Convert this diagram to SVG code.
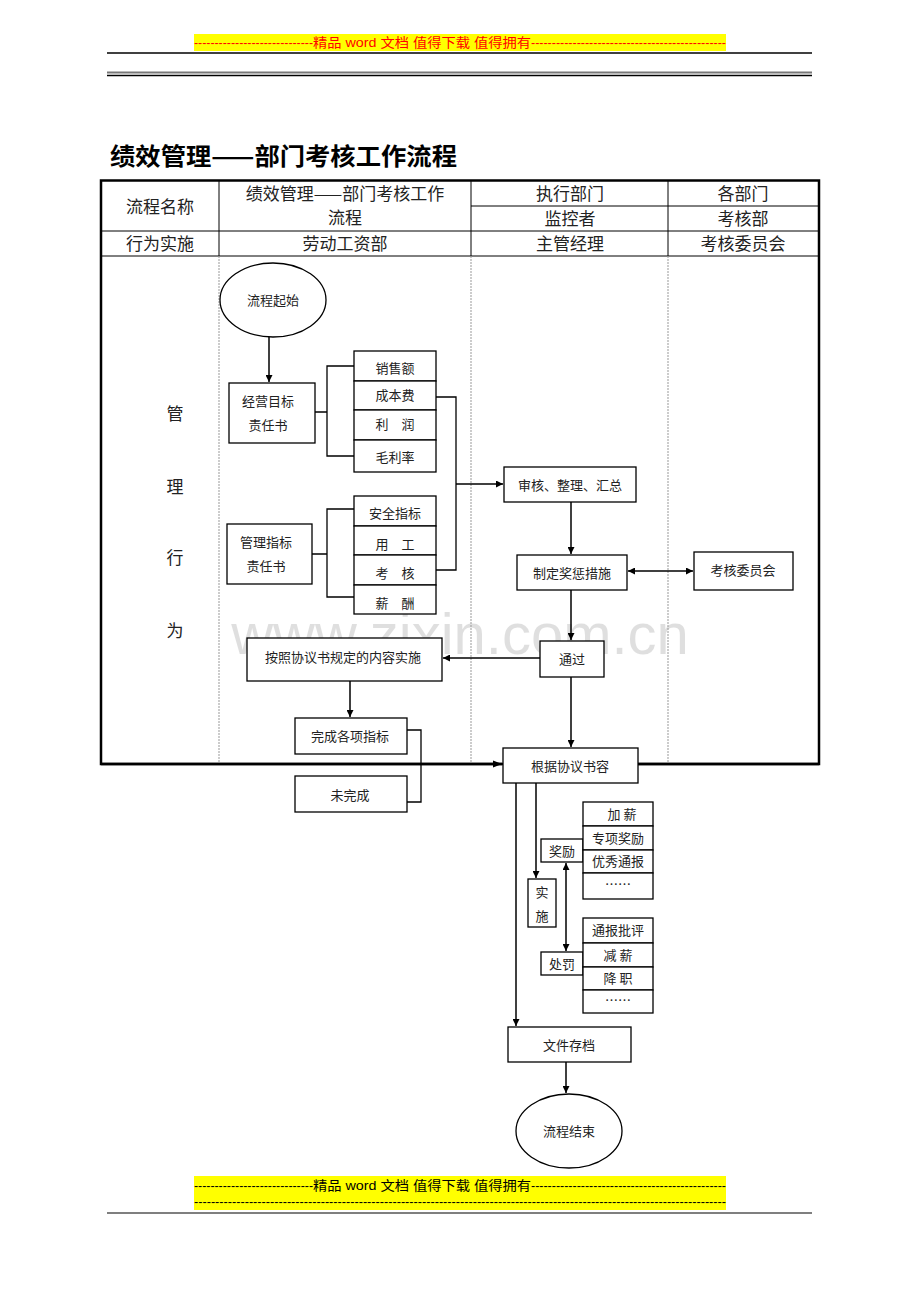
<svg xmlns="http://www.w3.org/2000/svg" width="920" height="1302" viewBox="0 0 920 1302">
<defs>
<style>
.t{font-family:"Noto Sans CJK SC","Liberation Serif",serif;fill:#222;text-anchor:middle}
.h{font-size:17px}
.s{font-size:13px}
.b{fill:#fff;stroke:#000;stroke-width:1.3}
.ln{fill:none;stroke:#000;stroke-width:1.3}
.ar{fill:none;stroke:#000;stroke-width:1.5}
.dot{stroke:#999;stroke-width:1;stroke-dasharray:2,1}
.hd{font-family:"Liberation Sans","Noto Sans CJK SC",sans-serif;font-size:13px}
</style>
<marker id="a" viewBox="0 0 10 10" refX="10" refY="5" markerWidth="7" markerHeight="7" orient="auto-start-reverse" markerUnits="userSpaceOnUse"><path d="M0,0L10,5L0,10z" fill="#000"/></marker>
<marker id="a2" viewBox="0 0 10 10" refX="10" refY="5" markerWidth="9" markerHeight="9" orient="auto-start-reverse" markerUnits="userSpaceOnUse"><path d="M0,1L10,5L0,9z" fill="#000"/></marker>
</defs>
<rect width="920" height="1302" fill="#fff"/>

<g id="header">
<rect x="194" y="34" width="532" height="17" fill="#ff0"/>
<text class="hd" x="194" y="47" fill="#f00" textLength="119" lengthAdjust="spacingAndGlyphs">-----------------------------</text>
<text class="hd" x="313" y="47" fill="#f00" textLength="218" lengthAdjust="spacingAndGlyphs" font-family="Noto Sans CJK SC">精品 word 文档  值得下载  值得拥有</text>
<text class="hd" x="531" y="47" fill="#f00" textLength="195" lengthAdjust="spacingAndGlyphs">-----------------------------------------------</text>
<line x1="107" y1="53" x2="812" y2="53" stroke="#000" stroke-width="1.5"/>
<line x1="107" y1="72.5" x2="812" y2="72.5" stroke="#777" stroke-width="2"/>
<line x1="107" y1="75.5" x2="812" y2="75.5" stroke="#000" stroke-width="1.3"/>
</g>

<text x="110" y="165" font-family="Noto Sans CJK SC,sans-serif" font-size="24" font-weight="bold" fill="#000" textLength="347" lengthAdjust="spacingAndGlyphs">绩效管理——部门考核工作流程</text>

<text x="460" y="654" font-family="Liberation Sans,sans-serif" font-size="58" fill="#000" opacity="0.12" text-anchor="middle">www.zixin.com.cn</text>

<g id="table">
<line x1="219" y1="180" x2="219" y2="256" stroke="#000" stroke-width="1"/>
<line x1="471" y1="180" x2="471" y2="256" stroke="#000" stroke-width="1"/>
<line x1="668" y1="180" x2="668" y2="256" stroke="#000" stroke-width="1"/>
<line x1="471" y1="206" x2="819" y2="206" stroke="#000" stroke-width="1"/>
<line x1="101" y1="231" x2="819" y2="231" stroke="#000" stroke-width="1"/>
<line x1="101" y1="256" x2="819" y2="256" stroke="#000" stroke-width="1"/>
<line class="dot" x1="219" y1="256" x2="219" y2="764"/>
<line class="dot" x1="471" y1="256" x2="471" y2="764"/>
<line class="dot" x1="668" y1="256" x2="668" y2="764"/>
<rect x="101" y="180.5" width="718" height="583.5" fill="none" stroke="#000" stroke-width="2.5"/>
<text class="t h" x="160" y="213">流程名称</text>
<text class="t h" x="345" y="200">绩效管理——部门考核工作</text>
<text class="t h" x="345" y="224">流程</text>
<text class="t h" x="570" y="200">执行部门</text>
<text class="t h" x="743" y="200">各部门</text>
<text class="t h" x="570" y="225">监控者</text>
<text class="t h" x="743" y="225">考核部</text>
<text class="t h" x="160" y="250">行为实施</text>
<text class="t h" x="345" y="250">劳动工资部</text>
<text class="t h" x="570" y="250">主管经理</text>
<text class="t h" x="743" y="250">考核委员会</text>
<text class="t h" x="175" y="420">管</text>
<text class="t h" x="175" y="493">理</text>
<text class="t h" x="175" y="564">行</text>
<text class="t h" x="175" y="637">为</text>
</g>

<g id="connectors">
<line class="ar" x1="269" y1="337" x2="269" y2="382" marker-end="url(#a)"/>
<path class="ln" d="M315,412H327M354,366H327V456H354"/>
<path class="ln" d="M312,554H327M354,509H327V597H354"/>
<path class="ln" d="M436,397H456V570H436"/>
<line class="ar" x1="456" y1="484" x2="503" y2="484" marker-end="url(#a)"/>
<line class="ar" x1="571" y1="502" x2="571" y2="554" marker-end="url(#a)"/>
<line class="ar" x1="628" y1="571" x2="693" y2="571" marker-start="url(#a)" marker-end="url(#a)"/>
<line class="ar" x1="571" y1="590" x2="571" y2="640" marker-end="url(#a)"/>
<line class="ar" x1="540" y1="658" x2="443" y2="658" marker-end="url(#a)"/>
<line class="ar" x1="350" y1="681" x2="350" y2="717" marker-end="url(#a)"/>
<path class="ln" d="M407,730H421V802H407"/>
<line x1="101" y1="764" x2="502" y2="764" stroke="#000" stroke-width="2.5" marker-end="url(#a2)"/>
<line x1="638" y1="764" x2="819" y2="764" stroke="#000" stroke-width="2.5"/>
<line class="ar" x1="571" y1="677" x2="571" y2="747" marker-end="url(#a)"/>
<line class="ar" x1="516" y1="783" x2="516" y2="1026" marker-end="url(#a)"/>
<line class="ar" x1="536" y1="783" x2="536" y2="878" marker-end="url(#a)"/>
<line class="ar" x1="566" y1="863" x2="566" y2="951" marker-start="url(#a)" marker-end="url(#a)"/>
<line class="ar" x1="566" y1="1062" x2="566" y2="1093" marker-end="url(#a)"/>
</g>

<g id="start"><ellipse class="b" cx="273" cy="300" rx="53" ry="37"/><text class="t s" x="273" y="305">流程起始</text></g>
<g id="jymb"><rect class="b" x="229" y="383" width="86" height="60"/><text class="t s" x="268" y="406">经营目标</text><text class="t s" x="268" y="430">责任书</text></g>
<g id="xse"><rect class="b" x="354" y="351" width="82" height="30"/><text class="t s" x="395" y="373">销售额</text></g>
<g id="cbf"><rect class="b" x="354" y="381" width="82" height="29"/><text class="t s" x="395" y="400">成本费</text></g>
<g id="lr"><rect class="b" x="354" y="410" width="82" height="30"/><text class="t s" x="395" y="429">利　润</text></g>
<g id="mll"><rect class="b" x="354" y="440" width="82" height="32"/><text class="t s" x="395" y="462">毛利率</text></g>
<g id="glzb"><rect class="b" x="227" y="524" width="85" height="60"/><text class="t s" x="266" y="547">管理指标</text><text class="t s" x="266" y="571">责任书</text></g>
<g id="aqzb"><rect class="b" x="354" y="496" width="82" height="30"/><text class="t s" x="395" y="518">安全指标</text></g>
<g id="yg"><rect class="b" x="354" y="526" width="82" height="29"/><text class="t s" x="395" y="549">用　工</text></g>
<g id="kh"><rect class="b" x="354" y="555" width="82" height="30"/><text class="t s" x="395" y="578">考　核</text></g>
<g id="xc"><rect class="b" x="354" y="585" width="82" height="29"/><text class="t s" x="395" y="608">薪　酬</text></g>
<g id="shzl"><rect class="b" x="504" y="467" width="132" height="35"/><text class="t s" x="570" y="490">审核、整理、汇总</text></g>
<g id="zdjc"><rect class="b" x="517" y="555" width="110" height="35"/><text class="t s" x="572" y="578">制定奖惩措施</text></g>
<g id="khwyh"><rect class="b" x="694" y="552" width="99" height="38"/><text class="t s" x="743" y="575">考核委员会</text></g>
<g id="tg"><rect class="b" x="540" y="641" width="64" height="36"/><text class="t s" x="572" y="664">通过</text></g>
<g id="azxy"><rect class="b" x="247" y="638" width="195" height="43"/><text class="t s" x="343" y="662">按照协议书规定的内容实施</text></g>
<g id="wcgx"><rect class="b" x="295" y="718" width="112" height="36"/><text class="t s" x="350" y="741">完成各项指标</text></g>
<g id="wwc"><rect class="b" x="295" y="776" width="112" height="36"/><text class="t s" x="350" y="800">未完成</text></g>
<g id="gjxys"><rect class="b" x="503" y="748" width="135" height="35"/><text class="t s" x="570" y="771">根据协议书容</text></g>
<g id="ss"><rect class="b" x="528" y="879" width="28" height="48"/><text class="t s" x="542" y="897">实</text><text class="t s" x="542" y="921">施</text></g>
<g id="jl"><rect class="b" x="541" y="839" width="42" height="23"/><text class="t s" x="562" y="856">奖励</text></g>
<g id="cf"><rect class="b" x="541" y="952" width="42" height="23"/><text class="t s" x="562" y="969">处罚</text></g>
<g id="jx"><rect class="b" x="583" y="802" width="70" height="24"/><text class="t s" x="622" y="819">加  薪</text></g>
<g id="zxjl"><rect class="b" x="583" y="826" width="70" height="24"/><text class="t s" x="618" y="843">专项奖励</text></g>
<g id="yxtb"><rect class="b" x="583" y="850" width="70" height="23"/><text class="t s" x="618" y="866">优秀通报</text></g>
<g id="dots1"><rect class="b" x="583" y="873" width="70" height="26"/><text class="t s" x="618" y="889">……</text></g>
<g id="tbpp"><rect class="b" x="583" y="918" width="70" height="25"/><text class="t s" x="618" y="935">通报批评</text></g>
<g id="jianx"><rect class="b" x="583" y="943" width="70" height="24"/><text class="t s" x="618" y="960">减  薪</text></g>
<g id="jz"><rect class="b" x="583" y="967" width="70" height="23"/><text class="t s" x="618" y="983">降  职</text></g>
<g id="dots2"><rect class="b" x="583" y="990" width="70" height="23"/><text class="t s" x="618" y="1005">……</text></g>
<g id="wjcd"><rect class="b" x="508" y="1027" width="123" height="35"/><text class="t s" x="569" y="1050">文件存档</text></g>
<g id="end"><ellipse class="b" cx="569" cy="1131" rx="53" ry="37"/><text class="t s" x="569" y="1136">流程结束</text></g>

<g id="footer">
<rect x="194" y="1176" width="532" height="34" fill="#ff0"/>
<text class="hd" x="194" y="1190" fill="#000" textLength="119" lengthAdjust="spacingAndGlyphs">-----------------------------</text>
<text class="hd" x="313" y="1190" fill="#000" textLength="218" lengthAdjust="spacingAndGlyphs" font-family="Noto Sans CJK SC">精品 word 文档  值得下载  值得拥有</text>
<text class="hd" x="531" y="1190" fill="#000" textLength="195" lengthAdjust="spacingAndGlyphs">-----------------------------------------------</text>
<text class="hd" x="194" y="1206" fill="#000" textLength="532" lengthAdjust="spacingAndGlyphs">------------------------------------------------------------------------------------------------------------------------------</text>
<line x1="107" y1="1213" x2="812" y2="1213" stroke="#555" stroke-width="1.5"/>
</g>
</svg>
